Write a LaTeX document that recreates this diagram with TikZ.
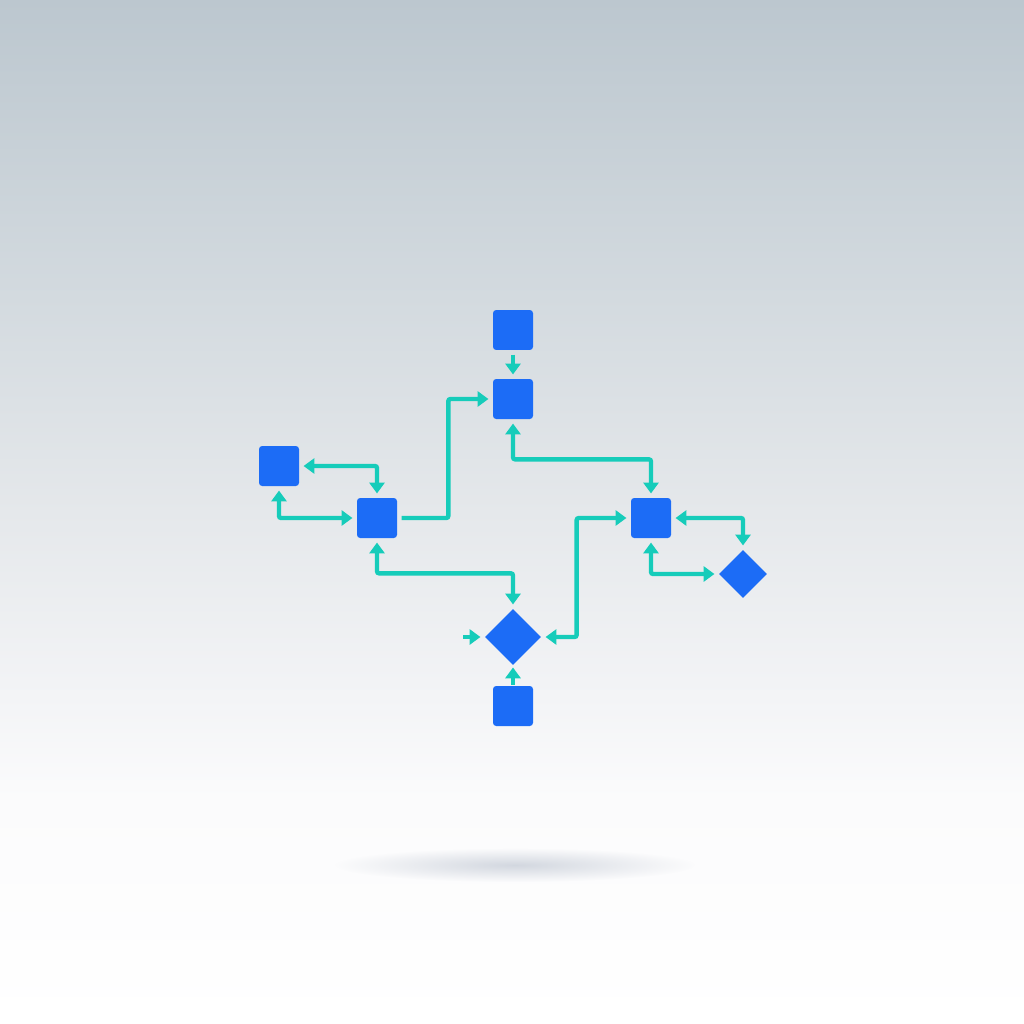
\documentclass[tikz,border=0pt]{standalone}
\usetikzlibrary{arrows.meta,shapes.geometric,fadings}
\definecolor{boxblue}{RGB}{28,108,246}
\definecolor{linkteal}{RGB}{22,204,186}
\definecolor{bgtop}{RGB}{188,199,207}
\definecolor{bgupper}{RGB}{211,218,223}
\definecolor{bgmid}{RGB}{229,232,235}
\definecolor{bglow}{RGB}{243,244,246}
\definecolor{bgfloor}{RGB}{251,251,252}
\definecolor{shadowgray}{RGB}{200,206,216}
\pgfdeclareverticalshading{bgfade}{100bp}{color(0bp)=(white); color(25bp)=(white); color(36bp)=(bgfloor);
  color(41bp)=(bglow); color(50bp)=(bgmid); color(60.5bp)=(bgupper); color(75bp)=(bgtop); color(100bp)=(bgtop)}
\tikzfading[name=softshadow,inner color=transparent!0,outer color=transparent!100]

\begin{document}
\begin{tikzpicture}[x=0.02cm,y=-0.02cm,
      sq/.style={fill=boxblue,rounded corners=1.8pt,minimum size=0.8cm,inner sep=0pt},
      dia/.style={diamond,fill=boxblue,inner sep=0pt},
      link/.style={draw=linkteal,line width=2.5pt,rounded corners=1.2pt,
        shorten <=2.4pt,shorten >=2.4pt},
      to/.style={link,-{Triangle[length=6.2pt,width=8.6pt]}},
      both/.style={link,{Triangle[length=6.2pt,width=8.6pt]}-{Triangle[length=6.2pt,width=8.6pt]}}]
  % backdrop
  \useasboundingbox (0,0) rectangle (1024,1024);
  \shade[shading=bgfade] (0,0) rectangle (1024,1024);
  \fill[shadowgray,opacity=0.8,path fading=softshadow] (515,865) ellipse (180 and 17);

  % boxes
  \node[sq] (top)   at (513,330) {};
  \node[sq] (hub)   at (513,399) {};
  \node[sq] (left)  at (279,466) {};
  \node[sq] (mid)   at (377,518) {};
  \node[sq] (right) at (651,518) {};
  \node[dia,minimum size=0.96cm] (side) at (743,574) {};
  \node[dia,minimum size=1.12cm] (join) at (513,637) {};
  \node[sq] (base)  at (513,706) {};
  \coordinate (feed) at (463,637);

  % links
  \draw[to] (top) -- (hub);
  \draw[to] (mid.east) -- ++(51,0) |- (hub.west);
  \draw[both] (hub.south) -- ++(0,40) -| (right.north);
  \draw[both] (left.east) -| (mid.north);
  \draw[both] (left.south) |- (mid.west);
  \draw[both] (mid.south) -- ++(0,35) -| (join.north);
  \draw[both] (right.west) -- ++(-54,0) |- (join.east);
  \draw[both] (right.east) -| (side.north);
  \draw[both] (right.south) |- (side.west);
  \draw[to,shorten <=0pt] (feed) -- (join.west);
  \draw[to,shorten <=0.6pt,shorten >=1.2pt] (base) -- (join);
\end{tikzpicture}
\end{document}
